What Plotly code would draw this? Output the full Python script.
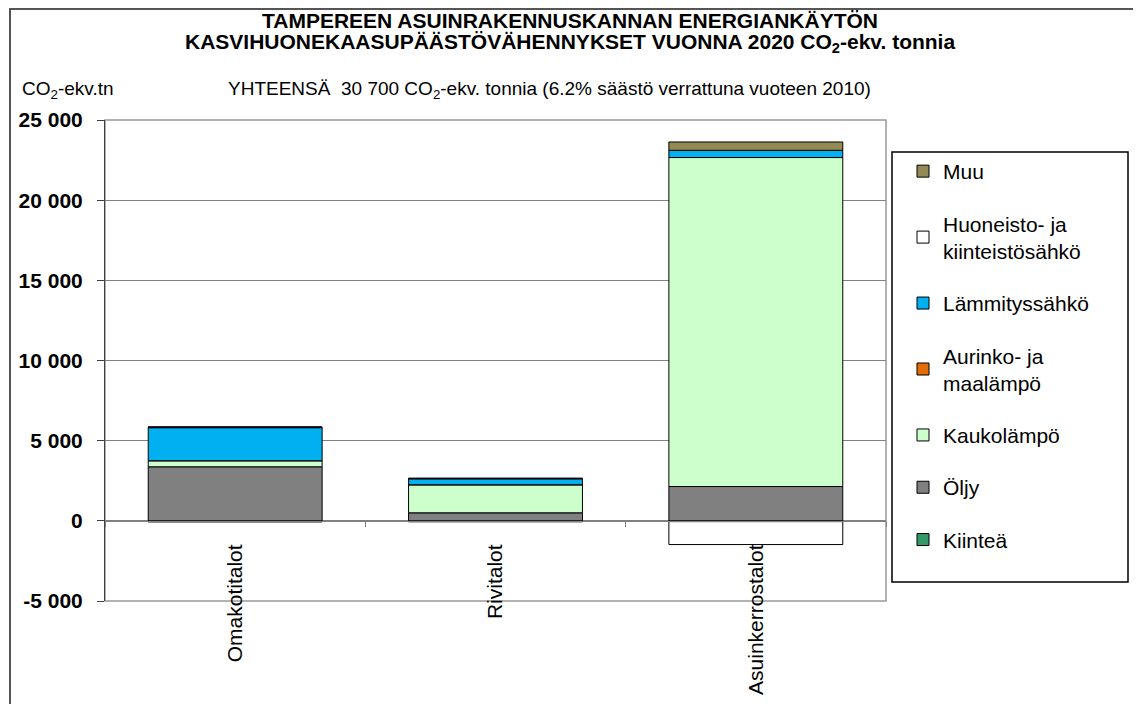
import plotly.graph_objects as go

# Data (CO2-ekv. tonnia)
categories = ["Omakotitalot", "Rivitalot", "Asuinkerrostalot"]
kiintea = [-70, -60, -50]
oljy = [3370, 500, 2140]
kaukolampo = [380, 1750, 20520]
aurinko = [0, 0, 0]
lammityssahko = [2060, 370, 450]
huoneisto = [40, 30, -1430]
muu = [0, 0, 520]

y_tickvals = [-5000, 0, 5000, 10000, 15000, 20000, 25000]
y_ticktext = ["-5 000", "0", "5 000", "10 000", "15 000", "20 000", "25 000"]

series = [
    ("Kiinteä", kiintea, "#339966"),
    ("Öljy", oljy, "#808080"),
    ("Kaukolämpö", kaukolampo, "#CCFFCC"),
    ("Aurinko- ja<br>maalämpö", aurinko, "#E46C0A"),
    ("Lämmityssähkö", lammityssahko, "#00B0F0"),
    ("Huoneisto- ja<br>kiinteistösähkö", huoneisto, "#FFFFFF"),
    ("Muu", muu, "#948A54"),
]

fig = go.Figure()
for i, (name, vals, col) in enumerate(series):
    fig.add_trace(go.Bar(
        x=categories, y=vals, name=name, legendgroup=str(i), legendrank=100 - i,
        marker=dict(color=col, line=dict(color="black", width=1)),
    ))

# the page body has an 8px margin: positions below are window pixels
OFF = 8
W, H = 1141 - OFF, 704 - OFF
L, R, T, B = 105 - OFF, 886 - OFF, 120 - OFF, 601 - OFF


def px(x):
    return (x - OFF - L) / (R - L)


def py(y):
    return (B - (y - OFF)) / (B - T)


fig.update_layout(
    width=W, height=H,
    margin=dict(l=L, r=W - R, t=T, b=H - B, autoexpand=False),
    barmode="relative", bargap=0.332,
    paper_bgcolor="white", plot_bgcolor="white",
    font=dict(family="Arial, Liberation Sans, sans-serif", color="black"),
    showlegend=True,
    legend=dict(
        x=px(903), y=py(151), xanchor="left", yanchor="top",
        traceorder="grouped", tracegroupgap=22,
        font=dict(size=21), bgcolor="rgba(0,0,0,0)", borderwidth=0,
    ),
    xaxis=dict(
        anchor="free", position=py(521), automargin=False,
        showline=True, linecolor="#808080", linewidth=1,
        ticks="outside", tickson="boundaries", ticklen=5, tickcolor="#808080",
        tickangle=-90, tickfont=dict(size=21), ticklabelstandoff=14,
        showgrid=False,
    ),
    yaxis=dict(
        range=[-5000, 25000], tickvals=y_tickvals, ticktext=y_ticktext,
        automargin=False,
        showgrid=True, gridcolor="#808080", gridwidth=1,
        zeroline=True, zerolinecolor="#808080", zerolinewidth=1,
        showline=True, linecolor="#404040", linewidth=1,
        ticks="outside", ticklen=7, tickcolor="#404040",
        tickfont=dict(size=21, family="Arial, Liberation Sans", weight="bold"),
        ticklabelstandoff=10,
    ),
)

# plot area border, legend box, outer chart border
fig.add_shape(type="rect", xref="paper", yref="paper", x0=0, x1=1, y0=0, y1=1,
              line=dict(color="#999999", width=1.5), layer="below")
fig.add_shape(type="rect", xref="paper", yref="paper",
              x0=px(892), x1=px(1128), y0=py(582), y1=py(152),
              line=dict(color="black", width=1.5))
fig.add_shape(type="rect", xref="paper", yref="paper",
              x0=px(10), x1=px(1139), y0=py(715), y1=py(9),
              line=dict(color="#555555", width=2))

fig.add_annotation(x=px(570), y=py(20), xref="paper", yref="paper", showarrow=False,
                   text="<b>TAMPEREEN ASUINRAKENNUSKANNAN ENERGIANKÄYTÖN</b>",
                   font=dict(size=21), xanchor="center", yanchor="middle")
fig.add_annotation(x=px(570), y=py(43), xref="paper", yref="paper", showarrow=False,
                   text="<b>KASVIHUONEKAASUPÄÄSTÖVÄHENNYKSET VUONNA 2020 CO<sub>2</sub>-ekv. tonnia</b>",
                   font=dict(size=21), xanchor="center", yanchor="middle")
fig.add_annotation(x=px(549), y=py(90), xref="paper", yref="paper", showarrow=False,
                   text="YHTEENSÄ  30 700 CO<sub>2</sub>-ekv. tonnia (6.2% säästö verrattuna vuoteen 2010)",
                   font=dict(size=19), xanchor="center", yanchor="middle")
fig.add_annotation(x=px(20), y=py(90), xref="paper", yref="paper", showarrow=False,
                   text="CO<sub>2</sub>-ekv.tn", font=dict(size=19),
                   xanchor="left", yanchor="middle")

fig.write_html("out.html")
